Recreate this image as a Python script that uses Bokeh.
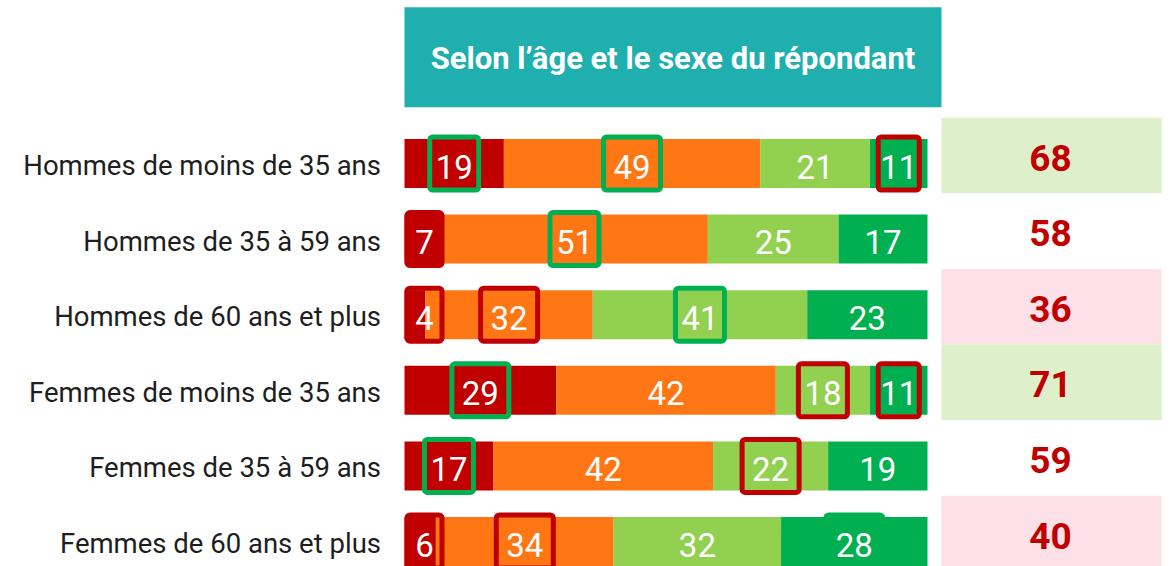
from bokeh.plotting import figure
from bokeh.models import ColumnDataSource, Range1d
from bokeh.core.properties import value
from bokeh.embed import file_html
from bokeh.resources import INLINE

# ---------------- data ----------------
categories = [
    "Hommes de moins de 35 ans",
    "Hommes de 35 à 59 ans",
    "Hommes de 60 ans et plus",
    "Femmes de moins de 35 ans",
    "Femmes de 35 à 59 ans",
    "Femmes de 60 ans et plus",
]
serie_1 = [19, 7, 4, 29, 17, 6]
serie_2 = [49, 51, 32, 42, 42, 34]
serie_3 = [21, 25, 41, 18, 22, 32]
serie_4 = [11, 17, 23, 11, 19, 28]
totaux = [68, 58, 36, 71, 59, 40]

# highlight frames around values ("vert" / "rouge" / "")
cadre_1 = ["vert", "rouge", "rouge", "vert", "vert", "rouge"]
cadre_2 = ["vert", "vert", "rouge", "", "", "rouge"]
cadre_3 = ["", "", "vert", "rouge", "rouge", ""]
cadre_4 = ["rouge", "", "", "rouge", "", "vert"]
# background of the total column ("haut" / "bas" / "")
fond_totaux = ["haut", "", "bas", "haut", "", "bas"]

titre = "Selon l’âge et le sexe du répondant"

# ---------------- styles ----------------
series = [serie_1, serie_2, serie_3, serie_4]
cadres = [cadre_1, cadre_2, cadre_3, cadre_4]
seg_colors = ["#C00000", "#FF7715", "#92D050", "#00B050"]
frame_colors = {"vert": "#00B050", "rouge": "#C00000"}
bg_colors = {"haut": "#DEF0CB", "bas": "#FDE0E8", "": None}
TEAL = "#1FAFAE"
FONT = "Roboto"

W, H = 1171, 566
PX = 5.23                    # px per percentage point
ROW = 75.6                   # px per row
X0, Y0 = 404, 163            # pixel position of bar start / first row centre
x_start = -X0 / PX
x_end = x_start + W / PX
y_top = -Y0 / ROW
y_bottom = y_top + H / ROW

p = figure(width=W, height=H, output_backend="svg", toolbar_location=None,
           x_range=Range1d(x_start, x_end), y_range=Range1d(y_bottom, y_top),
           x_axis_type=None, y_axis_type=None, min_border=0,
           outline_line_color=None, background_fill_color="white",
           border_fill_color="white")


def px_x(v):
    return (v - X0) / PX


def px_y(v):
    return (v - Y0) / ROW


# header band
head_right = px_x(941)
panel_right = px_x(1161)
p.quad(left=[0], right=[head_right], top=[px_y(6.7)], bottom=[px_y(106.7)],
       fill_color=TEAL, line_color=None)
p.text(x=[head_right / 2], y=[px_y(57.5)], text=[titre],
       text_align="center", text_baseline="middle", text_color="white",
       text_font=value(FONT), text_font_style="bold", text_font_size="31px")

# stacked bars
rows = list(range(len(categories)))
seg = dict(y=[], left=[], right=[], color=[], label=[], lx=[], frame=[], fw=[])
cum = [0] * len(categories)


def frame_width(t):
    return 18 + sum(14 if c == "1" else 22 for c in t)


for s, col, cad in zip(series, seg_colors, cadres):
    for i in rows:
        v = s[i]
        left, right = cum[i], cum[i] + v
        t = str(v)
        fw = frame_width(t)
        cx = max((left + right) / 2, fw / 2 / PX)
        seg["y"].append(i)
        seg["left"].append(left)
        seg["right"].append(right)
        seg["color"].append(col)
        seg["label"].append(t)
        seg["lx"].append(cx)
        seg["frame"].append(cad[i])
        seg["fw"].append(fw)
        cum[i] = right

src = ColumnDataSource(seg)
p.hbar(y="y", left="left", right="right", height=49 / ROW, fill_color="color",
       line_color=None, source=src)

# highlight frames
LW = 5
fr = dict(left=[], right=[], top=[], bottom=[], color=[])
for k in range(len(seg["y"])):
    f = seg["frame"][k]
    if not f:
        continue
    half = (seg["fw"][k] - LW) / 2 / PX
    fr["left"].append(seg["lx"][k] - half)
    fr["right"].append(seg["lx"][k] + half)
    fr["top"].append(seg["y"][k] - (58 - LW) / 2 / ROW)
    fr["bottom"].append(seg["y"][k] + (58 - LW) / 2 / ROW)
    fr["color"].append(frame_colors[f])
p.quad(left="left", right="right", top="top", bottom="bottom", fill_color=None,
       line_color="color", line_width=LW, border_radius=3, source=ColumnDataSource(fr))

p.text(x="lx", y="y", text="label", source=src, text_align="center",
       text_baseline="middle", text_color="white", text_font=value(FONT),
       text_font_size="33px", y_offset=3)

# category labels
p.text(x=[px_x(380.5)] * len(categories), y=rows, text=categories,
       text_align="right", text_baseline="middle", text_color="#1E1E1E",
       text_font=value(FONT), text_font_size="27.5px", y_offset=2)

# totals column
bg = dict(top=[], bottom=[], color=[])
for i in rows:
    c = bg_colors[fond_totaux[i]]
    if c is None:
        continue
    bg["top"].append(i - 0.5 - 8 / ROW)
    bg["bottom"].append(i + 0.5 - 8 / ROW)
    bg["color"].append(c)
p.quad(left=head_right, right=panel_right, top="top", bottom="bottom",
       fill_color="color", line_color=None, source=ColumnDataSource(bg))
p.text(x=[px_x(1050)] * len(totaux), y=[i - 6 / ROW for i in rows],
       text=[str(t) for t in totaux], text_align="center", text_baseline="middle",
       text_color="#C00000", text_font=value(FONT), text_font_style="bold",
       text_font_size="37px")

open("out.html", "w").write(file_html(p, INLINE))
